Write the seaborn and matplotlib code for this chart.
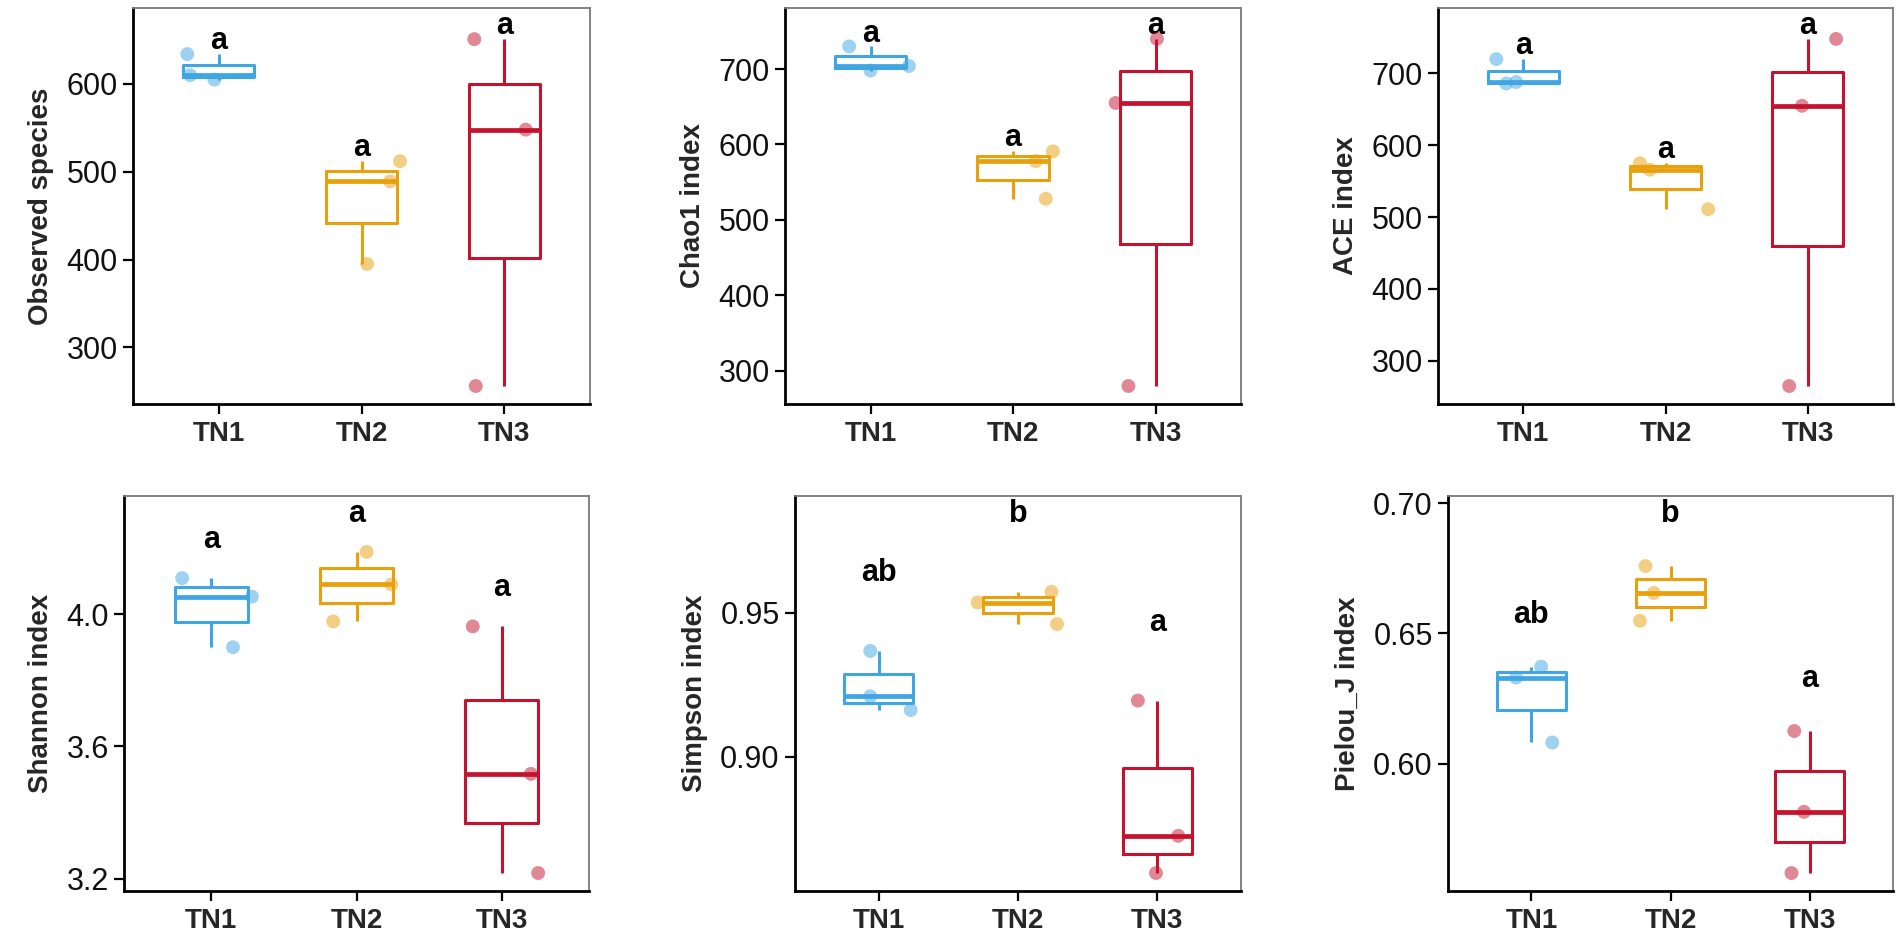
import numpy as np
import pandas as pd
import matplotlib
matplotlib.use("Agg")
import matplotlib.pyplot as plt
from matplotlib.ticker import FormatStrFormatter
import seaborn as sns

# Groups and alpha-diversity values (3 samples per group)
groups = ["TN1", "TN2", "TN3"]

observed = [[605, 610, 634], [395, 489, 512], [256, 548, 651]]
chao1 = [[698, 704, 730], [528, 578, 591], [280, 655, 740]]
ace = [[686, 688, 720], [511, 566, 575], [265, 655, 748]]
shannon = [[3.900, 4.053, 4.109], [3.978, 4.090, 4.188], [3.217, 3.517, 3.963]]
simpson = [[0.9162, 0.9210, 0.9367], [0.9460, 0.9535, 0.9572], [0.8597, 0.8726, 0.9195]]
pielou = [[0.6081, 0.6330, 0.6372], [0.6548, 0.6655, 0.6758], [0.5580, 0.5815, 0.6125]]

# Significance letters
letters_observed = ["a", "a", "a"]
letters_chao1 = ["a", "a", "a"]
letters_ace = ["a", "a", "a"]
letters_shannon = ["a", "a", "a"]
letters_simpson = ["ab", "b", "a"]
letters_pielou = ["ab", "b", "a"]

# y-axis labels and ticks
ylabels = ["Observed species", "Chao1 index", "ACE index",
           "Shannon index", "Simpson index", "Pielou_J index"]
yticks_list = [[300, 400, 500, 600], [300, 400, 500, 600, 700], [300, 400, 500, 600, 700],
               [3.2, 3.6, 4.0], [0.90, 0.95], [0.60, 0.65, 0.70]]

# ---- styling ----
colors = ["#3FA6E3", "#E8A00C", "#C3132E"]
tick_fmt = [None, None, None, "%.1f", "%.2f", "%.2f"]
letter_gap = [15, 17, 18, 0.115, 0.027, 0.020]   # distance of letter above group max
# horizontal jitter of the dots (category units), same order as the values
jitters = [
    [[-0.03, -0.20, -0.22], [0.04, 0.20, 0.27], [-0.20, 0.15, -0.21]],
    [[0.00, 0.27, -0.15], [0.23, 0.16, 0.28], [-0.19, -0.28, 0.01]],
    [[-0.12, -0.05, -0.19], [0.30, -0.11, -0.18], [-0.13, -0.04, 0.20]],
    [[0.15, 0.28, -0.20], [-0.16, 0.24, 0.07], [0.25, 0.20, -0.20]],
    [[0.23, -0.06, -0.06], [0.28, -0.29, 0.24], [-0.01, 0.15, -0.14]],
    [[0.15, -0.11, 0.07], [-0.22, -0.12, -0.18], [-0.13, -0.04, -0.11]],
]
# axes boxes in pixels: left, right, top, bottom
boxes = [(133, 590, 8, 404), (785, 1241, 8, 404), (1438, 1893, 8, 404),
         (124, 589, 496, 891), (795, 1241, 496, 891), (1448, 1893, 496, 891)]

metrics = [observed, chao1, ace, shannon, simpson, pielou]
letters = [letters_observed, letters_chao1, letters_ace,
           letters_shannon, letters_simpson, letters_pielou]

sns.set_style("white")
plt.rcParams["font.family"] = ["Liberation Sans", "DejaVu Sans"]

W, H = 1902, 936
fig = plt.figure(figsize=(W / 100, H / 100), dpi=100)

for k, values in enumerate(metrics):
    l, r, t, b = boxes[k]
    ax = fig.add_axes([l / W, 1 - b / H, (r - l) / W, (b - t) / H])

    df = pd.DataFrame({
        "group": [g for g, v in zip(groups, values) for _ in v],
        "value": [x for v in values for x in v],
    })

    sns.boxplot(data=df, x="group", y="value", hue="group", order=groups,
                hue_order=groups, palette=colors, fill=False, width=0.5,
                linewidth=2.2, showcaps=False, showfliers=False, legend=False,
                medianprops={"linewidth": 3.4}, ax=ax)

    n_before = len(ax.collections)
    sns.stripplot(data=df, x="group", y="value", hue="group", order=groups,
                  hue_order=groups, palette=colors, jitter=False, size=10,
                  alpha=0.5, linewidth=0, legend=False, ax=ax, zorder=4)
    for i, coll in enumerate(ax.collections[n_before:]):
        off = coll.get_offsets().copy()
        off[:, 0] = off[:, 0] + np.array(jitters[k][i][:len(off)])
        coll.set_offsets(off)

    # significance letters above each group
    tops = [max(v) + letter_gap[k] for v in values]
    for i, g in enumerate(groups):
        ax.text(i, tops[i], letters[k][i], ha="center", va="center",
                fontsize=22, fontweight="bold", color="black")

    lo = min(min(v) for v in values)
    hi = max(tops)
    rng = hi - lo
    ax.set_ylim(lo - 0.05 * rng, hi + 0.05 * rng)
    ax.set_xlim(-0.6, 2.6)

    ax.set_yticks(yticks_list[k])
    if tick_fmt[k]:
        ax.yaxis.set_major_formatter(FormatStrFormatter(tick_fmt[k]))
    ax.set_xlabel("")
    ax.set_ylabel(ylabels[k], fontsize=20, fontweight="bold", labelpad=9)

    ax.tick_params(axis="both", which="both", length=7, width=1.6,
                   color="black", direction="out", bottom=True, left=True)
    ax.tick_params(axis="y", labelsize=22, pad=4, labelcolor="#111111")
    ax.tick_params(axis="x", labelsize=20, pad=5)
    for lab in ax.get_xticklabels():
        lab.set_fontweight("bold")

    for side in ["left", "bottom"]:
        ax.spines[side].set_color("black")
        ax.spines[side].set_linewidth(2)
    for side in ["top", "right"]:
        ax.spines[side].set_color("#7a7a7a")
        ax.spines[side].set_linewidth(1.3)

fig.savefig("out.png", dpi=100, facecolor="white")
